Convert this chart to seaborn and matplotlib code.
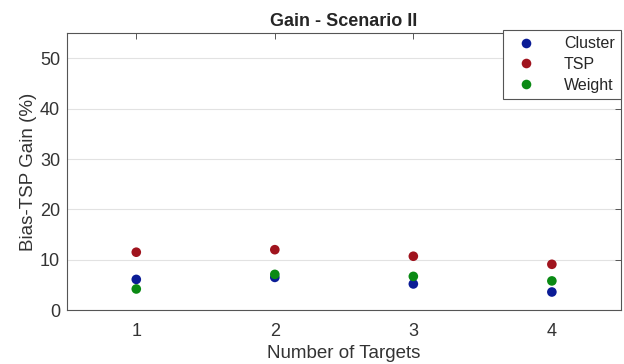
import matplotlib
matplotlib.use("Agg")
import matplotlib.pyplot as plt
import seaborn as sns
import pandas as pd

targets = [1, 2, 3, 4]
cluster = [6.1, 6.5, 5.2, 3.6]
tsp = [11.5, 12.0, 10.7, 9.1]
weight = [4.2, 7.1, 6.7, 5.8]
series = ["Cluster", "TSP", "Weight"]
colors = ["#0b1c96", "#a0141e", "#0a8a14"]

df = pd.DataFrame({
    "Number of Targets": targets * 3,
    "Gain": cluster + tsp + weight,
    "Method": sum([[s] * len(targets) for s in series], []),
})

sns.set_style("white")
plt.rcParams["font.family"] = ["Liberation Sans", "DejaVu Sans"]

fig = plt.figure(figsize=(6.24, 3.64), dpi=100)
ax = fig.add_axes([0.1074, 0.148, 0.888, 0.761])

sns.scatterplot(data=df, x="Number of Targets", y="Gain", hue="Method",
                hue_order=series, palette=colors, s=48, linewidth=0,
                ax=ax, zorder=3)

ax.set_xlim(0.5, 4.5)
ax.set_ylim(0, 55)
ax.set_xticks(targets)
ax.set_yticks([0, 10, 20, 30, 40, 50])
ax.grid(axis="y", color="#e2e2e2", linewidth=0.8)
ax.set_axisbelow(True)
for sp in ax.spines.values():
    sp.set_color("#555555")
    sp.set_linewidth(0.8)
ax.tick_params(direction="in", top=True, right=True, length=4,
               color="#555555", labelsize=13, labelcolor="#333333", width=0.7)
ax.tick_params(axis="x", pad=9)
ax.tick_params(axis="y", pad=5)
ax.set_xlabel("Number of Targets", fontsize=13.5, color="#333333", labelpad=4)
ax.set_ylabel("Bias-TSP Gain (%)", fontsize=13.5, color="#333333", labelpad=2)
ax.set_title("Gain - Scenario II", fontsize=13, fontweight="bold", pad=5)

leg = ax.legend(loc="upper right", bbox_to_anchor=(621 / 624, 1 - 30 / 364),
                bbox_transform=fig.transFigure, borderaxespad=0, title=None,
                fontsize=11.5, frameon=True, fancybox=False, borderpad=0.4,
                handletextpad=1.4, labelspacing=0.35, handlelength=2.0,
                markerscale=1.0)
leg.get_frame().set_edgecolor("#555555")
leg.get_frame().set_linewidth(0.8)
leg.get_frame().set_alpha(1)

fig.savefig("out.png", dpi=100)
